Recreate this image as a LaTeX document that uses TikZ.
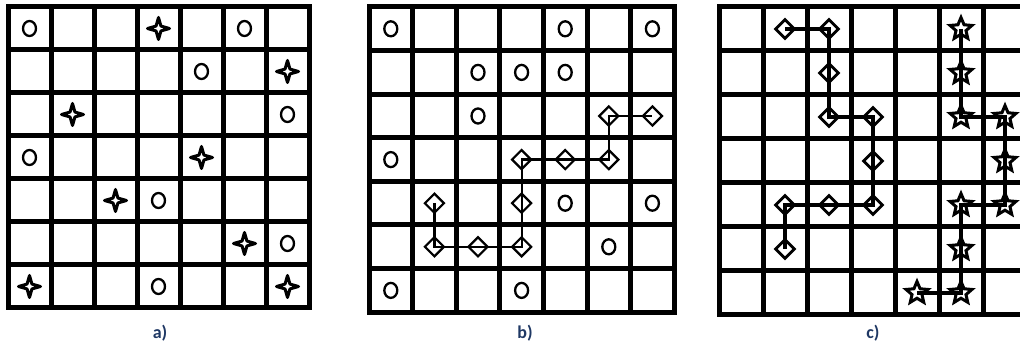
\documentclass[tikz,border=0pt]{standalone}
\usepackage{fontspec}
\setmainfont{Carlito}
\usetikzlibrary{shapes.geometric,positioning}
\definecolor{capnavy}{HTML}{1F3864}
\tikzset{
    gridline/.style={line width=5pt},
    ring/.style={ellipse, draw, line width=2.3pt, minimum width=13pt, minimum height=15pt, inner sep=0pt},
    spark/.style={star, star points=4, star point ratio=3.2, draw, fill=white, line width=3pt, line join=round, minimum size=22pt, inner sep=0pt},
    gem/.style={diamond, draw, fill=white, line width=2.2pt, minimum size=20pt, inner sep=0pt},
    starmark/.style={star, star points=5, star point ratio=2.2, draw, fill=white, line width=3pt, minimum size=23pt, inner sep=0pt},
    trail/.style={draw, line width=2.2pt},
    caption/.style={font=\fontsize{18}{21}\selectfont\bfseries, text=capnavy}
}

\begin{document}
\begin{tikzpicture}[x=1pt, y=-1pt]
    \useasboundingbox (0,0) rectangle (1020,352);

    % board a)
    \begin{scope}[shift={(8,7)}, x=43pt, y=-43pt]
        \draw[gridline] (0,0) rectangle (7,7);
        \foreach \k in {1,...,6} {
            \draw[gridline] (\k,0) -- (\k,7);
            \draw[gridline] (0,\k) -- (7,\k);
        }
        \foreach \r/\c [count=\i] in {0/0,0/5,1/4,2/6,3/0,4/3,5/6,6/3}
            \node[ring] (ao\i) at (\c+.5,\r+.5) {};
        \foreach \r/\c [count=\i] in {0/3,1/6,2/1,3/4,4/2,5/5,6/0,6/6}
            \node[spark] (as\i) at (\c+.5,\r+.5) {};
    \end{scope}

    % board b)
    \begin{scope}[shift={(369,7)}, x=43.6pt, y=-43.6pt]
        \draw[gridline] (0,0) rectangle (7,7);
        \foreach \k in {1,...,6} {
            \draw[gridline] (\k,0) -- (\k,7);
            \draw[gridline] (0,\k) -- (7,\k);
        }
        \foreach \r/\c [count=\i] in {0/0,0/4,0/6,1/2,1/3,1/4,2/2,3/0,4/4,4/6,5/5,6/0,6/3}
            \node[ring] (bo\i) at (\c+.5,\r+.5) {};
        \foreach \r/\c [count=\i] in {4/1,5/1,5/2,5/3,4/3,3/3,3/4,3/5,2/5,2/6}
            \node[gem] (bd\i) at (\c+.5,\r+.5) {};
        \draw[trail] (bd1.center) \foreach \i in {2,...,10} {-- (bd\i.center)};
    \end{scope}

    % board c)
    \begin{scope}[shift={(719,7)}, x=44pt, y=-44pt]
        \draw[gridline] (0,0) rectangle (7,7);
        \foreach \k in {1,...,6} {
            \draw[gridline] (\k,0) -- (\k,7);
            \draw[gridline] (0,\k) -- (7,\k);
        }
        \foreach \r/\c [count=\i] in {0/1,0/2,1/2,2/2,2/3,3/3,4/3,4/2,4/1,5/1}
            \node[gem, line width=2.8pt] (cd\i) at (\c+.5,\r+.5) {};
        \foreach \r/\c [count=\i] in {0/5,1/5,2/5,2/6,3/6,4/6,4/5,5/5,6/5,6/4}
            \node[starmark] (cs\i) at (\c+.5,\r+.5) {};
        \draw[trail, line width=4pt] (cd1.center) \foreach \i in {2,...,10} {-- (cd\i.center)};
        \draw[trail, line width=4pt] (cs1.center) \foreach \i in {2,...,10} {-- (cs\i.center)};
    \end{scope}

    % captions
    \node[caption] (capa) at (160,333) {a)};
    \node[caption] (capb) at (525,333) {b)};
    \node[caption] (capc) at (873,333) {c)};
\end{tikzpicture}
\end{document}
